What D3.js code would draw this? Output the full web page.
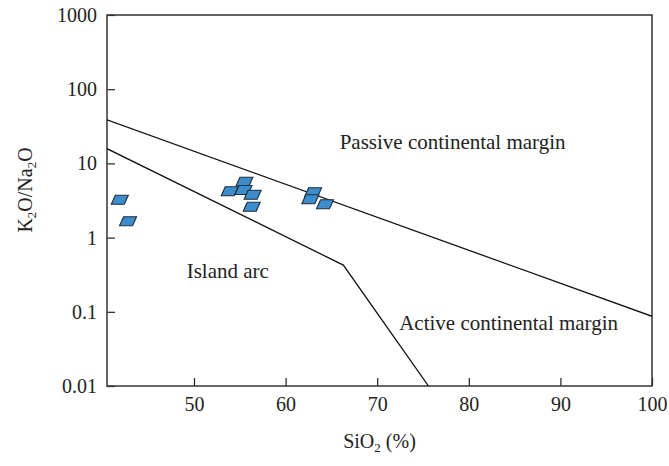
<!DOCTYPE html>
<html>
<head>
<meta charset="utf-8">
<script src="https://cdn.jsdelivr.net/npm/d3@7"></script>
<style>
  body { margin: 0; background: #fff; }
  svg text { font-family: "Liberation Serif", "DejaVu Serif", serif; fill: #222; }
</style>
</head>
<body>
<div class="chart"></div>
<script>
// samples: SiO2 (%) vs K2O/Na2O
var sio2 = [41.9, 42.8, 55.5, 53.9, 55.4, 56.4, 56.3, 63.0, 62.7, 64.3];
var k2oNa2o = [3.24, 1.66, 5.67, 4.21, 4.38, 3.78, 2.61, 4.08, 3.28, 2.81];

// field boundaries (Roser & Korsch)
var upperLineX = [40.5, 100];
var upperLineY = [38.6, 0.087];
var lowerLineX = [40.5, 66.3, 75.6];
var lowerLineY = [15.8, 0.426, 0.01];

var xTicks = [50, 60, 70, 80, 90, 100];
var yTicks = [0.01, 0.1, 1, 10, 100, 1000];
var yTickLabels = ["0.01", "0.1", "1", "10", "100", "1000"];

var fieldNames = ["Passive continental margin", "Island arc", "Active continental margin"];
var fieldX = [65.9, 49.2, 72.4];
var fieldY = [15.7, 0.284, 0.0565];

function drawChart() {
    var margin = { top: 15, right: 17, bottom: 80, left: 107 },
        width = 669 - margin.left - margin.right,
        height = 466 - margin.top - margin.bottom;

    var svg = d3.select(".chart").append("svg")
        .attr("width", 669)
        .attr("height", 466);

    var g = svg.append("g")
        .attr("transform", "translate(" + margin.left + "," + margin.top + ")");

    var x = d3.scaleLinear().domain([40.5, 100]).range([0, width]);
    var y = d3.scaleLog().domain([0.01, 1000]).range([height, 0]);

    g.append("clipPath").attr("id", "plotclip")
        .append("rect").attr("width", width).attr("height", height);

    // axes
    var xAxis = g.append("g")
        .attr("transform", "translate(0," + height + ")")
        .call(d3.axisBottom(x).tickValues(xTicks).tickSize(-8).tickPadding(11).tickFormat(d3.format("d")));
    var yAxis = g.append("g")
        .call(d3.axisLeft(y).tickValues(yTicks).tickSize(-8).tickPadding(10)
            .tickFormat(function (d, i) { return yTickLabels[i]; }));

    [xAxis, yAxis].forEach(function (a) {
        a.select(".domain").remove();
        a.selectAll("line").attr("stroke", "#222").attr("stroke-width", 1.2);
        a.selectAll("text").attr("font-size", 20).attr("fill", "#222")
            .style("font-family", "'Liberation Serif', serif");
    });

    // frame
    g.append("rect")
        .attr("width", width).attr("height", height)
        .attr("fill", "none").attr("stroke", "#333").attr("stroke-width", 1.5);

    var line = d3.line()
        .x(function (d) { return x(d[0]); })
        .y(function (d) { return y(d[1]); });

    var lines = g.append("g").attr("clip-path", "url(#plotclip)");
    lines.append("path")
        .datum(d3.zip(upperLineX, upperLineY))
        .attr("d", line).attr("fill", "none").attr("stroke", "#111").attr("stroke-width", 1.3);
    lines.append("path")
        .datum(d3.zip(lowerLineX, lowerLineY))
        .attr("d", line).attr("fill", "none").attr("stroke", "#111").attr("stroke-width", 1.3);

    // field labels
    g.selectAll(".field")
        .data(fieldNames)
        .enter().append("text")
        .attr("class", "field")
        .attr("x", function (d, i) { return x(fieldX[i]); })
        .attr("y", function (d, i) { return y(fieldY[i]); })
        .attr("font-size", 21)
        .text(function (d) { return d; });

    // parallelogram markers
    var marker = "M-4.5,-4.5L8.5,-4.5L4.5,4.5L-8.5,4.5Z";
    g.selectAll(".pt")
        .data(d3.zip(sio2, k2oNa2o))
        .enter().append("path")
        .attr("class", "pt")
        .attr("d", marker)
        .attr("transform", function (d) { return "translate(" + x(d[0]) + "," + y(d[1]) + ")"; })
        .attr("fill", "#3d8dcc")
        .attr("stroke", "#1d2d3c")
        .attr("stroke-width", 1.1);

    // axis titles
    var xt = svg.append("text")
        .attr("x", margin.left + width / 2)
        .attr("y", 448)
        .attr("text-anchor", "middle")
        .attr("font-size", 20);
    xt.append("tspan").text("SiO");
    xt.append("tspan").attr("font-size", 13).attr("dy", 4).text("2");
    xt.append("tspan").attr("dy", -4).text(" (%)");

    var yt = svg.append("text")
        .attr("transform", "translate(32," + 190 + ") rotate(-90)")
        .attr("text-anchor", "middle")
        .attr("font-size", 20);
    yt.append("tspan").text("K");
    yt.append("tspan").attr("font-size", 13).attr("dy", 4).text("2");
    yt.append("tspan").attr("dy", -4).text("O/Na");
    yt.append("tspan").attr("font-size", 13).attr("dy", 4).text("2");
    yt.append("tspan").attr("dy", -4).text("O");
}

drawChart();
</script>
</body>
</html>
